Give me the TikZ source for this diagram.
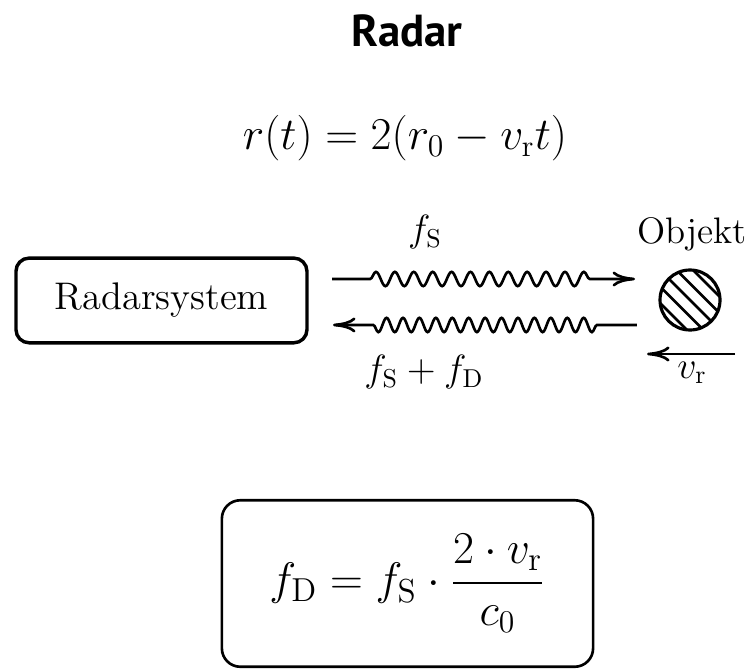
\documentclass[tikz,border=0pt]{standalone}
\usepackage{amsmath}
\usepackage{fontspec}
\newfontfamily\headfont{PT Sans}
\usepackage{tikz}
\usetikzlibrary{arrows.meta, positioning, decorations.pathmorphing}
\tikzset{
  sysbox/.style={
    rectangle,
    rounded corners=5pt,
    draw=black,
    line width=1.3pt,
    minimum width=3.88cm,
    minimum height=1.13cm,
    font=\fontsize{14.6}{17}\selectfont
  },
  resultbox/.style={
    rectangle,
    rounded corners=7pt,
    draw=black,
    line width=1pt,
    minimum width=4.95cm,
    minimum height=2.22cm,
    font=\fontsize{18}{22}\selectfont
  },
  objcircle/.style={
    circle,
    draw=black,
    line width=1.2pt,
    minimum size=0.8cm,
    inner sep=0pt,
    path picture={
      \foreach \k in {-0.22,-0.11,0,0.11,0.22}
        \draw[line width=1pt] ([shift={(\k,\k)}]path picture bounding box.center) ++(-0.5,0.5) -- ++(1,-1);
    }
  },
  tagtext/.style={anchor=base, inner sep=0pt, font=\fontsize{14}{17}\selectfont},
  plainarrow/.style={-{To[length=3mm, width=2mm]}, line width=1pt},
  txwave/.style={plainarrow, decorate,
    decoration={snake, amplitude=0.095cm, segment length=0.252cm, pre length=0.507cm, post length=0.507cm}},
  rxwave/.style={plainarrow, decorate,
    decoration={snake, amplitude=0.095cm, segment length=0.219cm, pre length=0.533cm, post length=0.453cm}}
}
\begin{document}
\begin{tikzpicture}
  \useasboundingbox (0,0) rectangle (10,8.933);

  \node[anchor=base, inner sep=0pt, font=\headfont\bfseries\fontsize{17}{20}\selectfont] (title) at (5.427,8.307) {Radar};
  \node[anchor=base, inner sep=0pt, font=\fontsize{16.5}{19}\selectfont] (distance) at (5.4,6.933) {$r(t) = 2(r_0 - v_{\mathrm{r}} t)$};

  \node[sysbox] (radar) at (2.153,4.927) {Radarsystem};
  \node[objcircle] (object) at (9.2,4.933) {};
  \node[tagtext] (objname) at (9.227,5.693) {Objekt};

  \coordinate (txstart) at (4.427,5.213);
  \coordinate (txend) at (8.467,5.213);
  \coordinate (rxstart) at (8.493,4.6);
  \coordinate (rxend) at (4.44,4.6);
  \coordinate (vstart) at (9.8,4.213);
  \coordinate (vend) at (8.627,4.213);

  \draw[txwave] (txstart) -- (txend);
  \draw[rxwave] (rxstart) -- (rxend);
  \draw[plainarrow] (vstart) -- (vend);

  \node[tagtext] (fsend) at (5.667,5.707) {$f_{\mathrm{S}}$};
  \node[tagtext] (frecv) at (5.653,3.84) {$f_{\mathrm{S}} + f_{\mathrm{D}}$};
  \node[tagtext] (vlabel) at (9.227,3.893) {$v_{\mathrm{r}}$};

  \node[resultbox] (doppler) at (5.433,1.153) {$\displaystyle f_{\mathrm{D}} = f_{\mathrm{S}} \cdot \frac{2 \cdot v_{\mathrm{r}}}{c_0}$};
\end{tikzpicture}
\end{document}
